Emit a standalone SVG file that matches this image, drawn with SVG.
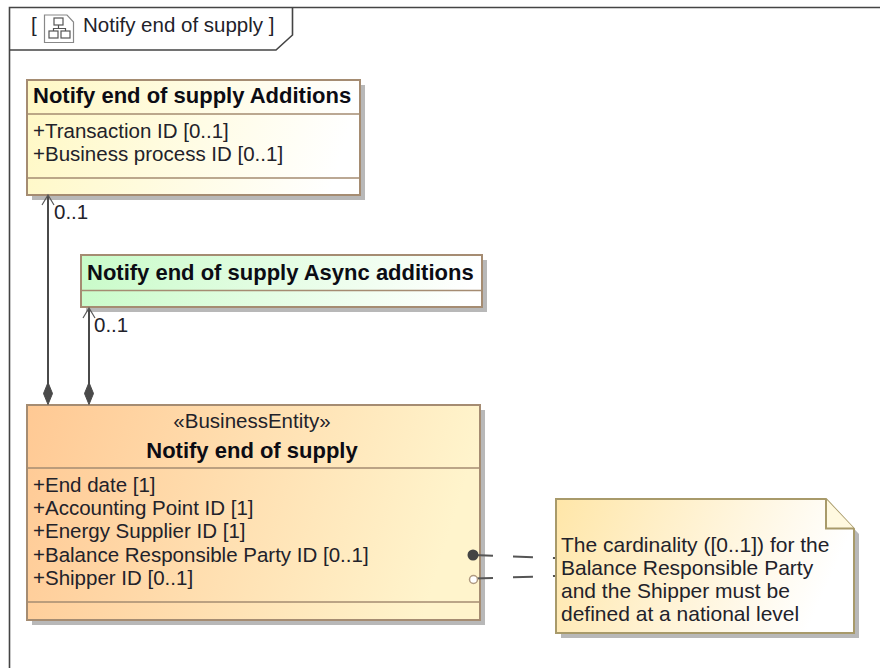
<svg xmlns="http://www.w3.org/2000/svg" width="880" height="668" viewBox="0 0 880 668">
<style>
text{font-family:"Liberation Sans",Arial,sans-serif;fill:#22222a;font-size:20.500px}
.b{font-weight:bold;font-size:22px;fill:#0c0c14}
.n{font-size:21px}
.box{stroke:#a58c72;stroke-width:2}
.div{stroke:#a58c72;stroke-width:1.600;fill:none}
.sh{fill:#b8b8b8}
.con{stroke:#4a4a4a;stroke-width:2;fill:none}
.head{stroke:#5a5a5a;stroke-width:1.200;fill:none}
.dia{fill:#4a4a4a;stroke:#4a4a4a;stroke-width:1;stroke-linejoin:round}
.dash{stroke:#555;stroke-width:2;fill:none;stroke-dasharray:20 20}
.frame{stroke:#444;stroke-width:1.600;fill:none}
</style>
<defs>
<linearGradient id="gy" x1="0" y1="0" x2="1" y2="0.1"><stop offset="0" stop-color="#fff8c4"/><stop offset="1" stop-color="#ffffff"/></linearGradient>
<linearGradient id="gg" x1="0" y1="0" x2="1" y2="0.05"><stop offset="0" stop-color="#c8fbc8"/><stop offset="1" stop-color="#ffffff"/></linearGradient>
<linearGradient id="go" x1="0" y1="0" x2="1" y2="0.15"><stop offset="0" stop-color="#ffc994"/><stop offset="1" stop-color="#fff4cc"/></linearGradient>
<linearGradient id="gn" x1="0" y1="0" x2="1" y2="0.2"><stop offset="0" stop-color="#ffe6a8"/><stop offset="1" stop-color="#ffffff"/></linearGradient>
</defs>
<rect width="880" height="668" fill="#fff"/>
<g id="frame">
<path class="frame" d="M9.500 668V7.500H880"/>
<path class="frame" d="M9.500 50H276L292.500 35V7.500"/>
<text x="31" y="32">[</text>
<g fill="none" stroke="#555" stroke-width="1.200">
<path d="M44.500 15H67L73.500 22V42.500H44.500Z" stroke="#888"/>
<rect x="54" y="18" width="9" height="7"/>
<rect x="49" y="31" width="9" height="7"/>
<rect x="61" y="31" width="9" height="7"/>
<path d="M58.500 25V28.500M53.500 31V28.500H65.500V31"/>
</g>
<text x="83" y="32">Notify end of supply ]</text>
</g>
<g id="additions">
<rect class="sh" x="32" y="85" width="333" height="115"/>
<rect class="box" x="27" y="80" width="333" height="115" fill="url(#gy)"/>
<path class="div" d="M27 114H360M27 178H360"/>
<text class="b" x="33" y="103">Notify end of supply Additions</text>
<text x="33" y="138">+Transaction ID [0..1]</text>
<text x="33" y="161">+Business process ID [0..1]</text>
<text x="54" y="219">0..1</text>
</g>
<g id="async">
<rect class="sh" x="86" y="260" width="401" height="52"/>
<rect class="box" x="81" y="255" width="401" height="52" fill="url(#gg)"/>
<path class="div" d="M81 290.500H482"/>
<text class="b" x="87" y="280">Notify end of supply Async additions</text>
<text x="94" y="332">0..1</text>
</g>
<g id="main">
<rect class="sh" x="32" y="410" width="453" height="215"/>
<rect class="box" x="27" y="405" width="453" height="215" fill="url(#go)"/>
<path class="div" d="M27 468H480M27 602H480"/>
<text x="252" y="428" text-anchor="middle">«BusinessEntity»</text>
<text class="b" x="252" y="458" text-anchor="middle">Notify end of supply</text>
<text x="33" y="492">+End date [1]</text>
<text x="33" y="515">+Accounting Point ID [1]</text>
<text x="33" y="538">+Energy Supplier ID [1]</text>
<text x="33" y="562">+Balance Responsible Party ID [0..1]</text>
<text x="33" y="585">+Shipper ID [0..1]</text>
</g>
<g id="note">
<path class="sh" d="M561 504H831L859 534V638H561Z"/>
<path d="M556 499H826L854 529V633H556Z" fill="url(#gn)" stroke="#a89a6a" stroke-width="2"/>
<path d="M826 499V528.500H854" fill="#fff9e0" stroke="#a89a6a" stroke-width="2"/>
<text class="n" x="561" y="552">The cardinality ([0..1]) for the</text>
<text class="n" x="561" y="575">Balance Responsible Party</text>
<text class="n" x="561" y="598">and the Shipper must be</text>
<text class="n" x="561" y="621">defined at a national level</text>
</g>
<g id="connectors">
<path class="con" d="M48 196V385"/>
<path class="head" d="M42 205L48 195L54 205"/>
<path class="dia" d="M48 382.500L52.500 393.500L48 404.500L43.500 393.500Z"/>
<path class="con" d="M89 309V385"/>
<path class="head" d="M83 318L89 308L95 318"/>
<path class="dia" d="M89 382.500L93.500 393.500L89 404.500L84.500 393.500Z"/>
<path class="dash" d="M473 555L555 558"/>
<path class="dash" d="M473 578.500L555 576"/>
<circle cx="473" cy="555" r="5.500" fill="#444"/>
<circle cx="473.500" cy="579.500" r="4" fill="#fff" stroke="#b09a80" stroke-width="1.500"/>
</g>
</svg>
